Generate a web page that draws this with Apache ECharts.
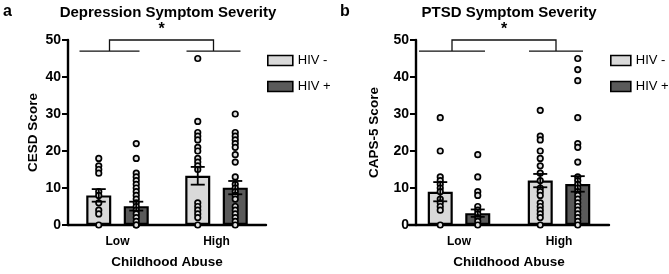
<!DOCTYPE html>
<html><head><meta charset="utf-8">
<script src="https://cdn.jsdelivr.net/npm/echarts@6/dist/echarts.min.js"></script>
<style>html,body{margin:0;padding:0;background:#fff}#c{width:669px;height:274px}</style>
</head><body><div id="c"></div>
<script>
const categories = ['Low', 'High'];
const groupNames = ['HIV -', 'HIV +'];
const yTicks = [0, 10, 20, 30, 40, 50];

// Panel a: CESD
const cesdMeanNeg = [8.0, 13.3];
const cesdMeanPos = [5.1, 10.1];
const cesdSemNeg = [1.7, 2.4];
const cesdSemPos = [1.2, 1.8];
const cesdLowNeg = [18, 16, 15, 14, 9, 8, 6, 4, 3, 0];
const cesdLowPos = [22, 18, 14, 13, 12, 11, 10, 9, 8, 7, 6, 5, 4, 3, 2, 1, 0, 0];
const cesdHighNeg = [45, 28, 25, 24, 23, 21, 20, 18, 17, 16, 15, 6, 5, 4, 3, 2, 0];
const cesdHighPos = [30, 25, 24, 23, 22, 21, 19, 17, 13, 11, 10, 9, 8, 7, 5, 4, 3, 2, 1, 0];

// Panel b: CAPS-5
const capsMeanNeg = [9.0, 12.0];
const capsMeanPos = [3.2, 11.1];
const capsSemNeg = [2.6, 1.8];
const capsSemPos = [1.0, 2.1];
const capsLowNeg = [29, 20, 13, 12, 11, 10, 9, 7, 6, 5, 4, 0];
const capsLowPos = [19, 13, 9, 8, 5, 4, 3, 2, 1, 0];
const capsHighNeg = [31, 24, 23, 20, 18, 16, 14, 12, 10, 9, 8, 6, 5, 4, 3, 2, 0];
const capsHighPos = [45, 42, 39, 29, 22, 21, 17, 13, 12, 11, 10, 9, 8, 7, 6, 5, 4, 3, 2, 1, 0];

const bracketLow = 47, bracketHigh = 50;

const FONT = "'Liberation Sans', Arial, Helvetica, sans-serif";
const LIGHT = '#d9d9d9', DARK = '#5a5a5a';
const BW = 25, OFF = 18.75;

const chart = echarts.init(document.getElementById('c'));

function pts(low, high) {
  return low.map(v => [0, v]).concat(high.map(v => [1, v]));
}

function panelSeries(i, meanNeg, meanPos, semNeg, semPos, lowNeg, highNeg, lowPos, highPos, brk) {
  const ax = { xAxisIndex: i, yAxisIndex: i };
  const dotStyle = { color: '#e0e0e0', borderColor: '#000', borderWidth: 1.7, opacity: 1 };
  return [
    Object.assign({ type: 'bar', name: groupNames[0], data: meanNeg, barWidth: BW, barGap: '50%',
      itemStyle: { color: LIGHT, borderColor: '#000', borderWidth: 2.2 }, z: 2 }, ax),
    Object.assign({ type: 'bar', name: groupNames[1], data: meanPos, barWidth: BW, barGap: '50%',
      itemStyle: { color: DARK, borderColor: '#000', borderWidth: 2.2 }, z: 2 }, ax),
    Object.assign({ type: 'scatter', name: 'pn' + i, data: pts(lowNeg, highNeg), symbolSize: 5.5,
      symbolOffset: [-OFF, 0], itemStyle: dotStyle, z: 4 }, ax),
    Object.assign({ type: 'scatter', name: 'pp' + i, data: pts(lowPos, highPos), symbolSize: 5.5,
      symbolOffset: [OFF, 0], itemStyle: dotStyle, z: 4 }, ax),
    Object.assign({ type: 'custom', name: 'err' + i, z: 5,
      data: [[0, meanNeg[0], semNeg[0], -1], [1, meanNeg[1], semNeg[1], -1],
             [0, meanPos[0], semPos[0], 1], [1, meanPos[1], semPos[1], 1]],
      renderItem: function (params, api) {
        const x = api.value(0), m = api.value(1), s = api.value(2), sg = api.value(3);
        const top = api.coord([x, m + s]), bot = api.coord([x, m - s]);
        const cx = top[0] + sg * OFF;
        const st = { stroke: '#000', lineWidth: 1.8 };
        return { type: 'group', children: [
          { type: 'line', shape: { x1: cx, y1: top[1], x2: cx, y2: bot[1] }, style: st },
          { type: 'line', shape: { x1: cx - 7, y1: top[1], x2: cx + 7, y2: top[1] }, style: st },
          { type: 'line', shape: { x1: cx - 7, y1: bot[1], x2: cx + 7, y2: bot[1] }, style: st }
        ]};
      } }, ax),
    Object.assign({ type: 'custom', name: 'brk' + i, z: 5, clip: false,
      data: [[0, bracketLow, bracketHigh]],
      renderItem: function (params, api) {
        const lo0 = api.coord([0, api.value(1)]), lo1 = api.coord([1, api.value(1)]);
        const hi = api.coord([0, api.value(2)]);
        const v0 = lo0[0] + brk[0], v1 = lo1[0] + brk[1];
        const st = { stroke: '#111', lineWidth: 1.3 };
        return { type: 'group', children: [
          { type: 'line', shape: { x1: v0 - brk[2], y1: lo0[1], x2: v0 + brk[2], y2: lo0[1] }, style: st },
          { type: 'line', shape: { x1: v1 - brk[3], y1: lo1[1], x2: v1 + brk[3], y2: lo1[1] }, style: st },
          { type: 'polyline', shape: { points: [[v0, lo0[1]], [v0, hi[1]], [v1, hi[1]], [v1, lo1[1]]] }, style: { stroke: '#111', lineWidth: 1.3, fill: null } },
          { type: 'text', x: (v0 + v1) / 2, y: hi[1] - 2, style: { text: '*', font: 'bold 16px ' + FONT, fill: '#000', align: 'center', verticalAlign: 'bottom' } }
        ]};
      } }, ax)
  ];
}

function xAxisCfg(i) {
  return { type: 'category', gridIndex: i, data: categories,
    axisLine: { lineStyle: { color: '#000', width: 2.4 } },
    axisTick: { alignWithLabel: true, length: 6, lineStyle: { color: '#000', width: 2 } },
    axisLabel: { fontFamily: FONT, fontWeight: 'bold', fontSize: 12, color: '#000', margin: 11 },
    name: 'Childhood Abuse', nameLocation: 'middle', nameGap: 30,
    nameTextStyle: { fontFamily: FONT, fontWeight: 'bold', fontSize: 13.5, color: '#000' } };
}
function yAxisCfg(i, name, gap, off) {
  return { type: 'value', gridIndex: i, min: yTicks[0], max: yTicks[yTicks.length - 1], interval: 10, offset: off,
    axisLine: { show: true, lineStyle: { color: '#000', width: 2.4 } },
    axisTick: { show: true, length: 6, lineStyle: { color: '#000', width: 2 } },
    splitLine: { show: false },
    axisLabel: { fontFamily: FONT, fontWeight: 'bold', fontSize: 14, color: '#000', margin: 7 },
    name: name, nameLocation: 'middle', nameGap: gap, nameRotate: 90,
    nameTextStyle: { fontFamily: FONT, fontWeight: 'bold', fontSize: 13.5, color: '#000' } };
}
function legendCfg(left, w) {
  return { data: groupNames, left: left, top: 49, orient: 'vertical', itemWidth: w, itemHeight: 10, itemGap: 13,
    selectedMode: false, icon: 'rect',
    itemStyle: { borderColor: '#000', borderWidth: 1.6 },
    textStyle: { fontFamily: FONT, fontSize: 13, color: '#000' } };
}

chart.setOption({
  animation: false,
  grid: [
    { left: 68, top: 40, width: 198, height: 186 },
    { left: 409, top: 40, width: 200, height: 186 }
  ],
  xAxis: [xAxisCfg(0), xAxisCfg(1)],
  yAxis: [yAxisCfg(0, 'CESD Score', 28, 0), yAxisCfg(1, 'CAPS-5 Score', 35, -7)],
  legend: [legendCfg(262, 25), legendCfg(605, 20)],
  graphic: [
    { type: 'text', left: 3, top: 4, style: { text: 'a', font: 'bold 16px ' + FONT, fill: '#000' } },
    { type: 'text', left: 340, top: 4, style: { text: 'b', font: 'bold 16px ' + FONT, fill: '#000' } },
    { type: 'text', x: 168, y: 13, style: { text: 'Depression Symptom Severity', font: 'bold 15px ' + FONT, fill: '#000', align: 'center', verticalAlign: 'middle' } },
    { type: 'text', x: 509, y: 13, style: { text: 'PTSD Symptom Severity', font: 'bold 15px ' + FONT, fill: '#000', align: 'center', verticalAlign: 'middle' } }
  ],
  series: panelSeries(0, cesdMeanNeg, cesdMeanPos, cesdSemNeg, cesdSemPos, cesdLowNeg, cesdHighNeg, cesdLowPos, cesdHighPos, [-8, -3, 30, 27])
    .concat(panelSeries(1, capsMeanNeg, capsMeanPos, capsSemNeg, capsSemPos, capsLowNeg, capsHighNeg, capsLowPos, capsHighPos, [-7, -3, 33, 27]))
});
</script></body></html>
